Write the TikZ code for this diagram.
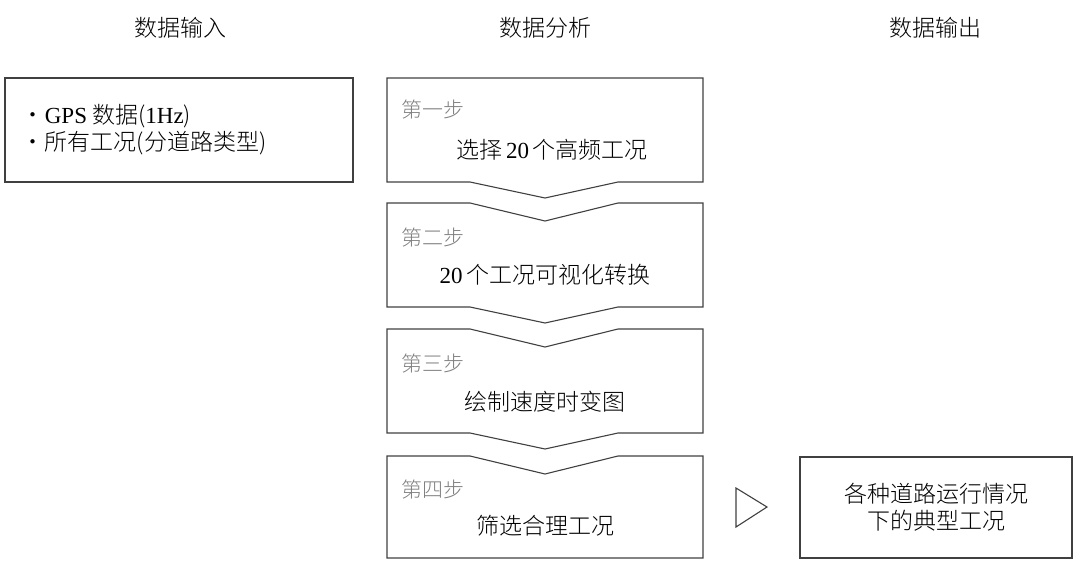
\documentclass[tikz,border=0pt]{standalone}
\usepackage{fontspec}
\setmainfont{Noto Sans CJK SC Light}[BoldFont=Noto Sans CJK SC]
\newfontfamily\lat{Liberation Serif}
\begin{document}
\begin{tikzpicture}[x=1pt,y=-1pt,line width=1.1pt,
  box/.style={draw=black!75},
  hdr/.style={font=\fontsize{23}{26}\selectfont},
  txt/.style={font=\fontsize{23}{27}\selectfont},
  lbl/.style={font=\fontsize{21}{24}\selectfont,text=black!50}]
\useasboundingbox (0,0) rectangle (1080,568);
\node[hdr] (h1) at (180,28) {数据输入};
\node[hdr] (h2) at (545,28) {数据分析};
\node[hdr] (h3) at (935,28) {数据输出};
\draw[box] (5,78) rectangle (353,182);
\node[txt,align=left,anchor=west] (in) at (18,130) {・{\lat GPS} 数据({\lat 1Hz})\\・所有工况(分道路类型)};
% steps
\draw[box] (387,78) -- (703,78) -- (703,182) -- (618,182) -- (545,198) -- (470,182) -- (387,182) -- cycle;
\foreach \t in {203,329,456}{
  \pgfmathsetmacro\b{\t+(\t==456?102:104)}
  \pgfmathsetmacro\n{\t+18}
  \pgfmathsetmacro\m{\b+16}
  \ifdim\t pt<400pt
  \draw[box] (387,\t) -- (470,\t) -- (545,\n) -- (618,\t) -- (703,\t) -- (703,\b) -- (618,\b) -- (545,\m) -- (470,\b) -- (387,\b) -- cycle;
  \else
  \draw[box] (387,\t) -- (470,\t) -- (545,\n) -- (618,\t) -- (703,\t) -- (703,\b) -- (387,\b) -- cycle;
  \fi
}
\node[lbl,anchor=west] (l1) at (398,110) {第一步};
\node[txt] (s1) at (552,150) {选择{\lat\,20\,}个高频工况};
\node[lbl,anchor=west] (l2) at (398,238) {第二步};
\node[txt] (s2) at (545,275) {{\lat 20\,}个工况可视化转换};
\node[lbl,anchor=west] (l3) at (398,364) {第三步};
\node[txt] (s3) at (545,402) {绘制速度时变图};
\node[lbl,anchor=west] (l4) at (398,490) {第四步};
\node[txt] (s4) at (545,526) {筛选合理工况};
\draw[box] (736,488) -- (767,507) -- (736,527) -- cycle;
\draw[box] (800,457) rectangle (1072,558);
\node[txt,align=center] (out) at (936,507) {各种道路运行情况\\下的典型工况};
\end{tikzpicture}
\end{document}
